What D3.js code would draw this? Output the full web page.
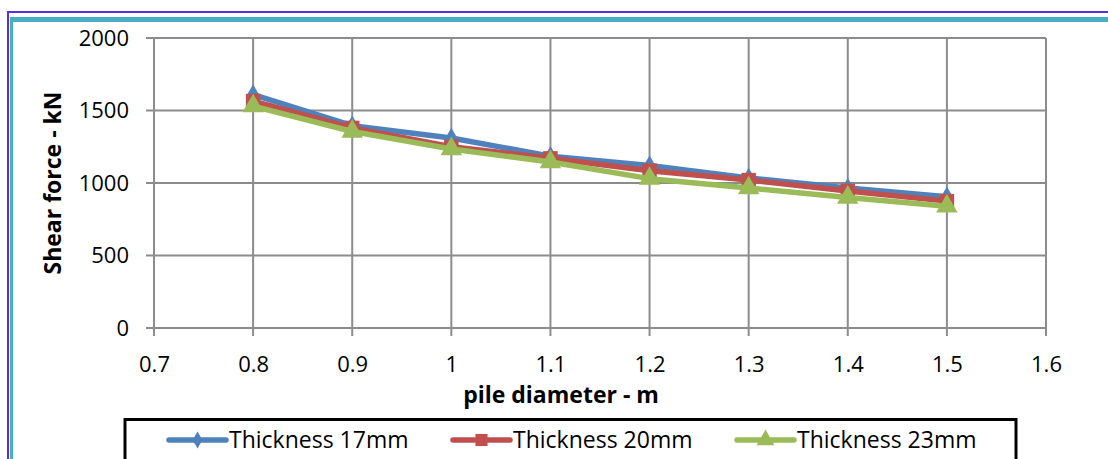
<!DOCTYPE html>
<html>
<head>
<meta charset="utf-8">
<script src="https://cdn.jsdelivr.net/npm/d3@7"></script>
<style>
  html, body { margin: 0; padding: 0; background: #fff; }
  svg { display: block; }
  text { font-family: "Open Sans", sans-serif; fill: #000; }
</style>
</head>
<body>
<svg id="chart" width="1108" height="459"></svg>
<script>
// Pile diameter (m) on the x axis, shear force (kN) per plate thickness
const diameters = [0.8, 0.9, 1.0, 1.1, 1.2, 1.3, 1.4, 1.5];
const shear17 = [1610, 1395, 1310, 1185, 1120, 1035, 965, 905];
const shear20 = [1565, 1380, 1250, 1170, 1085, 1020, 945, 875];
const shear23 = [1530, 1355, 1235, 1145, 1030, 965, 900, 840];
const seriesNames = ["Thickness 17mm", "Thickness 20mm", "Thickness 23mm"];
const xTicks = [0.7, 0.8, 0.9, 1.0, 1.1, 1.2, 1.3, 1.4, 1.5, 1.6];
const yTicks = [0, 500, 1000, 1500, 2000];

const series = [
  { name: seriesNames[0], values: shear17, color: "#4f81bd", symbol: d3.symbolDiamond, size: 120 },
  { name: seriesNames[1], values: shear20, color: "#c0504d", symbol: d3.symbolSquare, size: 210 },
  { name: seriesNames[2], values: shear23, color: "#9bbb59", symbol: d3.symbolTriangle, size: 200 }
];

const FONT = '"Open Sans", sans-serif';
const svg = d3.select("#chart");

// Frame lines around the chart
svg.append("line").attr("x1", 8).attr("x2", 1108).attr("y1", 12).attr("y2", 12)
  .attr("stroke", "#5a2de0").attr("stroke-width", 2);
svg.append("line").attr("x1", 8).attr("x2", 8).attr("y1", 11).attr("y2", 459)
  .attr("stroke", "#5a2de0").attr("stroke-width", 2);
svg.append("line").attr("x1", 10).attr("x2", 1108).attr("y1", 19.5).attr("y2", 19.5)
  .attr("stroke", "#4bacc6").attr("stroke-width", 5);
svg.append("line").attr("x1", 11.5).attr("x2", 11.5).attr("y1", 17).attr("y2", 459)
  .attr("stroke", "#4bacc6").attr("stroke-width", 3);

const x = d3.scaleLinear().domain([0.7, 1.6]).range([154, 1046]);
const y = d3.scaleLinear().domain([0, 2000]).range([328, 38]);

const gridColor = "#8c8c8c";

// Gridlines
svg.append("g").selectAll("line").data(xTicks).join("line")
  .attr("x1", d => x(d)).attr("x2", d => x(d))
  .attr("y1", y(2000)).attr("y2", y(0) + 8)
  .attr("stroke", gridColor).attr("stroke-width", 2);
svg.append("g").selectAll("line").data(yTicks).join("line")
  .attr("x1", x(0.7) - 8).attr("x2", x(1.6))
  .attr("y1", d => y(d)).attr("y2", d => y(d))
  .attr("stroke", gridColor).attr("stroke-width", 2);

// Axes (labels only; lines drawn as gridlines above)
const xAxis = d3.axisBottom(x).tickValues(xTicks).tickSize(0).tickPadding(28)
  .tickFormat(d => String(+d.toFixed(1)));
const gx = svg.append("g").attr("transform", `translate(0,${y(0)})`).call(xAxis);
gx.select(".domain").remove();
gx.selectAll("text").attr("font-size", 22).style("font-family", FONT);

const yAxis = d3.axisLeft(y).tickValues(yTicks).tickSize(0).tickPadding(25)
  .tickFormat(d3.format("d"));
const gy = svg.append("g").attr("transform", `translate(${x(0.7)},0)`).call(yAxis);
gy.select(".domain").remove();
gy.selectAll("text").attr("font-size", 22).style("font-family", FONT);

// Axis titles
svg.append("text").attr("x", 561).attr("y", 403).attr("text-anchor", "middle")
  .attr("font-size", 23).attr("font-weight", "bold").text("pile diameter -  m");
svg.append("text").attr("transform", `translate(61,183) rotate(-90)`).attr("text-anchor", "middle")
  .attr("font-size", 23).attr("font-weight", "bold").text("Shear force  -  kN");

// Series lines and markers
const line = d3.line().x((d, i) => x(diameters[i])).y(d => y(d));
series.forEach(s => {
  svg.append("path").datum(s.values).attr("d", line)
    .attr("fill", "none").attr("stroke", s.color).attr("stroke-width", 5.5)
    .attr("stroke-linejoin", "round");
  svg.append("g").selectAll("path").data(s.values).join("path")
    .attr("transform", (d, i) => `translate(${x(diameters[i])},${y(d)})`)
    .attr("d", d3.symbol().type(s.symbol).size(s.size))
    .attr("fill", s.color);
});

// Legend
const legend = svg.append("g");
legend.append("rect").attr("x", 125).attr("y", 419.5).attr("width", 891).attr("height", 60)
  .attr("fill", "#fff").attr("stroke", "#000").attr("stroke-width", 3);
const legendX = [169, 453, 737];
series.forEach((s, i) => {
  const g = legend.append("g").attr("transform", `translate(${legendX[i]},440)`);
  g.append("line").attr("x1", 0).attr("x2", 57).attr("y1", 0).attr("y2", 0)
    .attr("stroke", s.color).attr("stroke-width", 5.5).attr("stroke-linecap", "round");
  g.append("path").attr("transform", "translate(28.5,0)")
    .attr("d", d3.symbol().type(s.symbol).size(s.size * 0.7)).attr("fill", s.color);
  g.append("text").attr("x", 60).attr("y", 8).attr("font-size", 23).text(s.name);
});
</script>
</body>
</html>
